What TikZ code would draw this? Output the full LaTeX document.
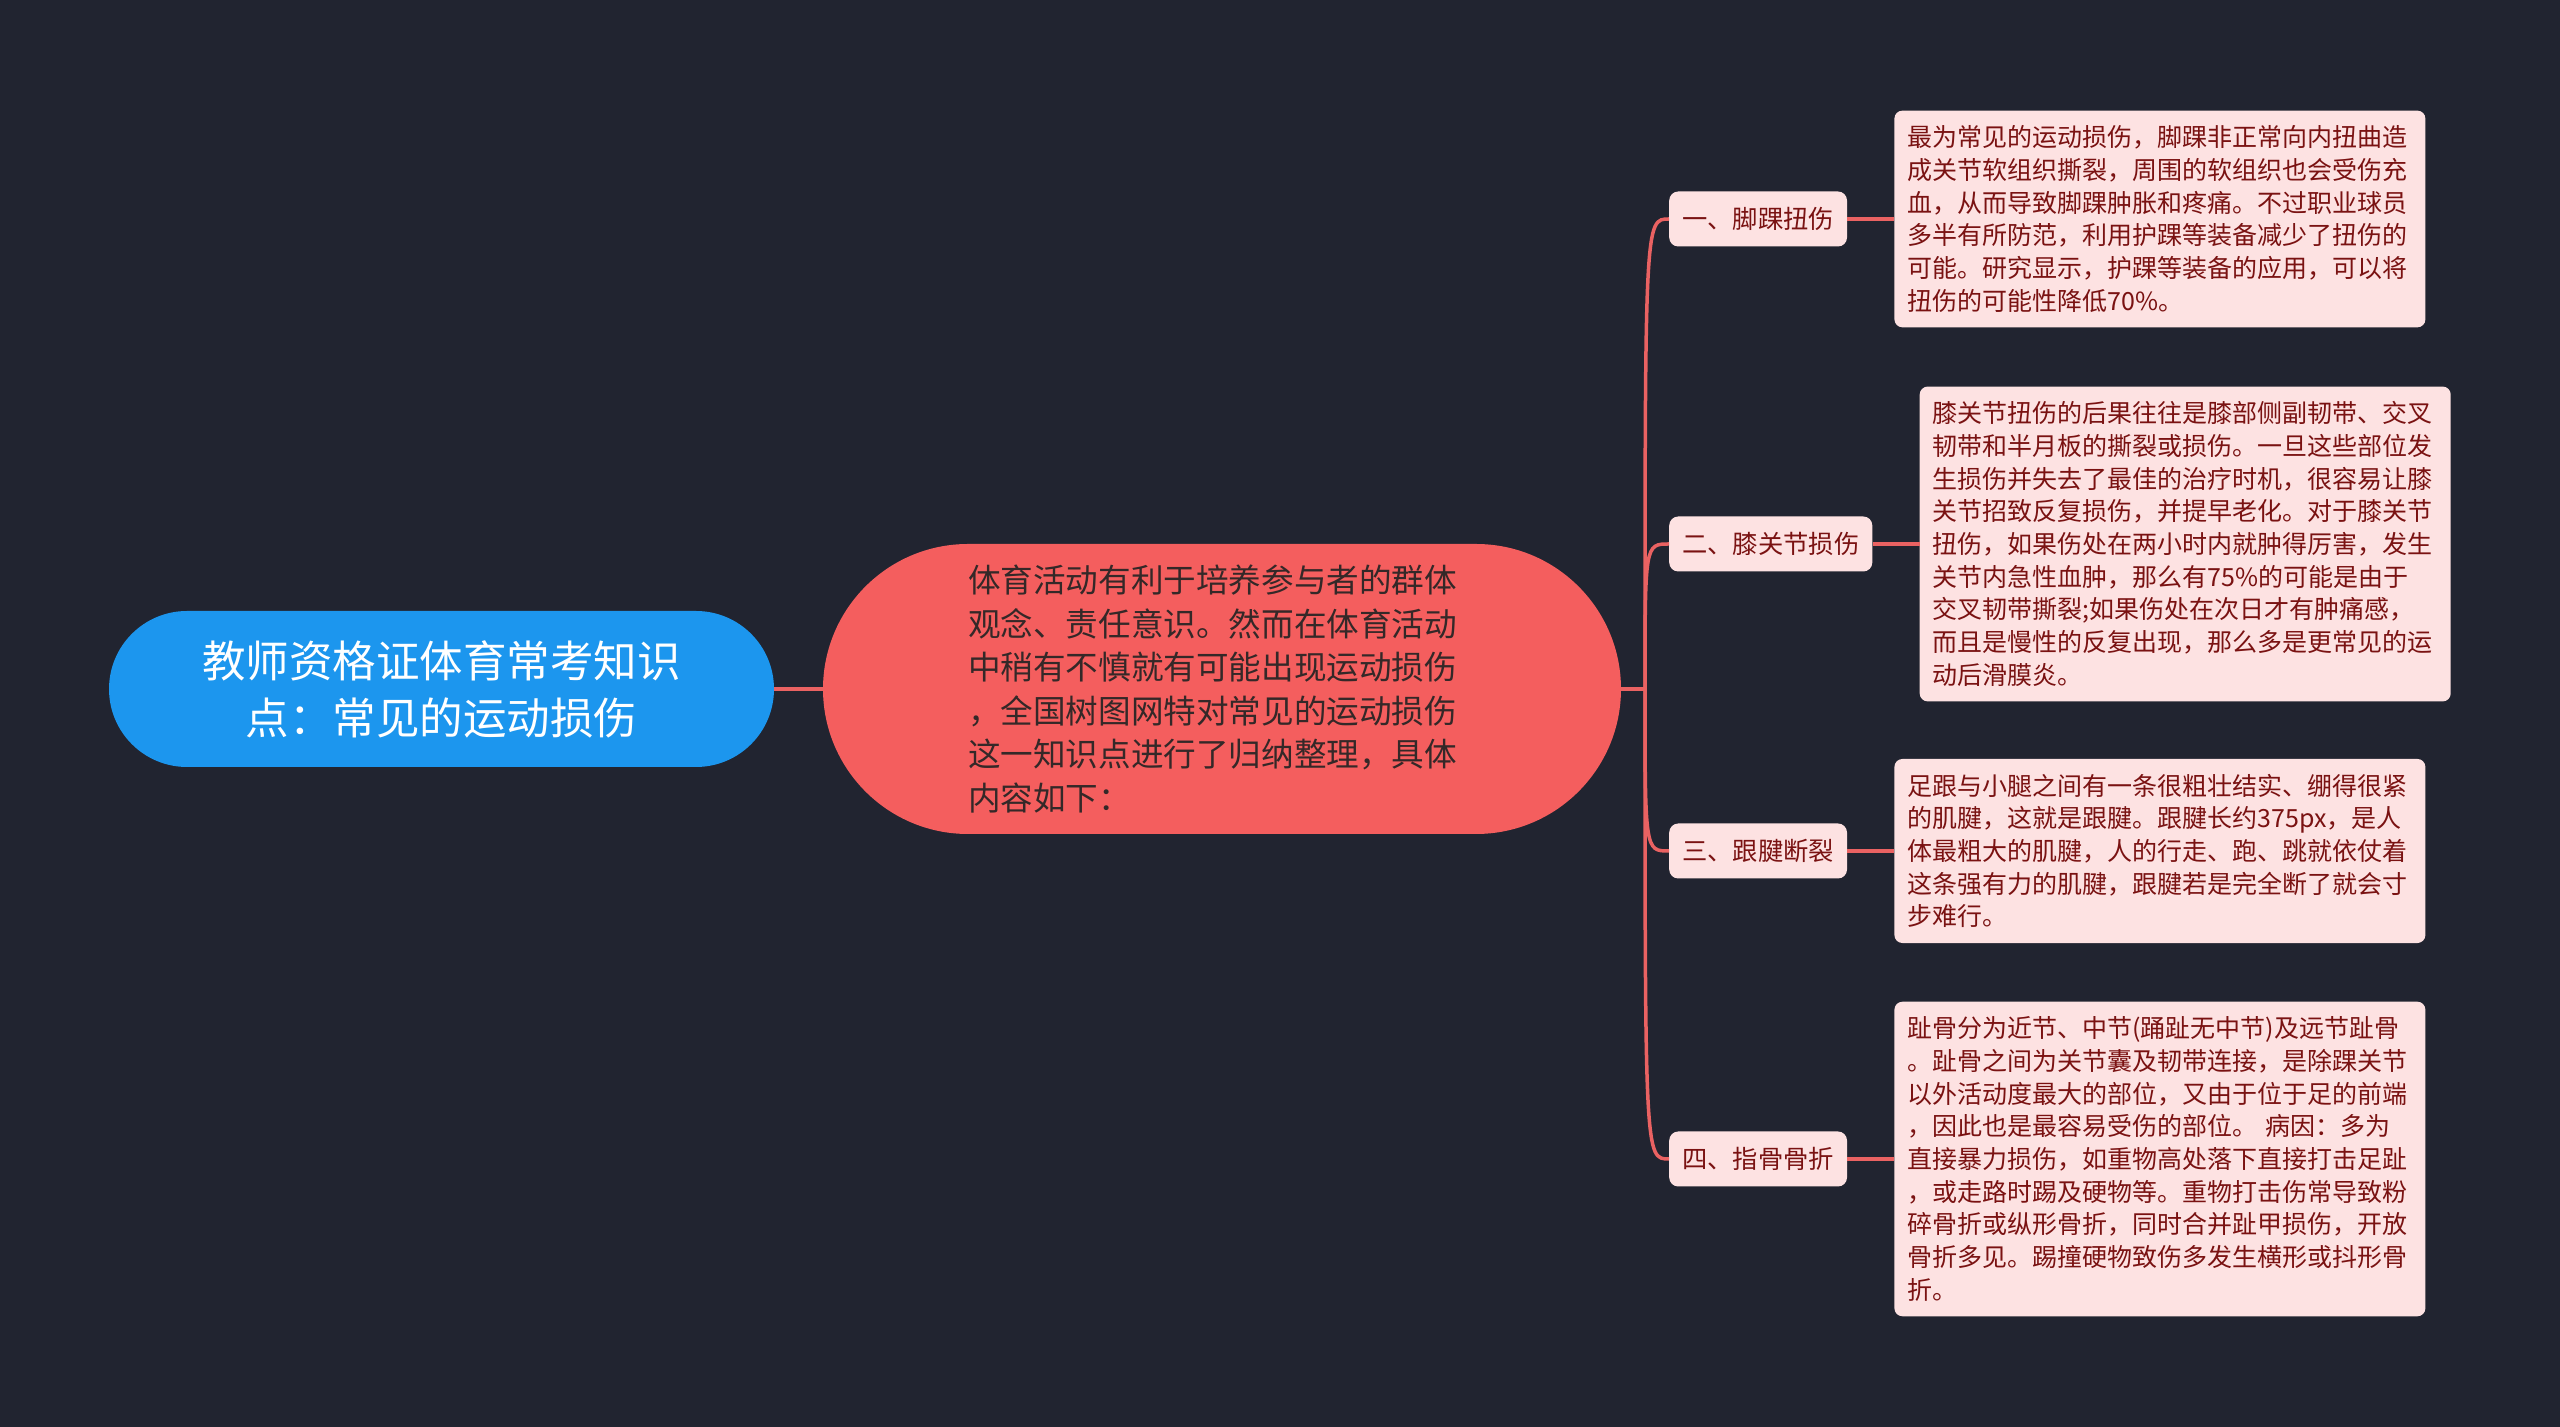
\documentclass[tikz,border=0pt]{standalone}
\usepackage{fontspec}
\usepackage{tikz}
\usetikzlibrary{positioning}
\newfontfamily\cjk{Noto Sans CJK SC}
\definecolor{bgcol}{RGB}{33,36,48}
\definecolor{rootblue}{RGB}{28,150,238}
\definecolor{topicred}{RGB}{244,94,94}
\definecolor{linered}{RGB}{234,98,98}
\definecolor{pinkfill}{RGB}{253,226,226}
\definecolor{darkred}{RGB}{122,18,18}
\definecolor{topictext}{RGB}{52,40,40}

\begin{document}
\begin{tikzpicture}[x=1pt, y=1pt, every node/.style={font=\cjk},
	branch/.style={draw=linered, line width=3.5pt},
	rootbox/.style={fill=rootblue, text=white, rounded corners=78pt, minimum width=665pt, minimum height=156pt, inner sep=0pt, align=center, font=\cjk\fontsize{43.5}{57}\selectfont},
	topicbox/.style={fill=topicred, text=topictext, rounded corners=145pt, minimum width=798pt, minimum height=290pt, inner sep=0pt, text width=508pt, align=left, font=\cjk\fontsize{32.6}{43.5}\selectfont},
	labbox/.style={fill=pinkfill, text=darkred, rounded corners=9pt, anchor=west, minimum height=55pt, inner xsep=13pt, inner ysep=0pt, font=\cjk\fontsize{25.3}{30}\selectfont},
	notebox/.style={fill=pinkfill, text=darkred, rounded corners=8pt, right=47pt of #1, inner xsep=13pt, inner ysep=15pt, text width=505pt, align=left, font=\cjk\fontsize{25}{32.7}\selectfont}]
	\fill[bgcol] (0,0) rectangle (2560,1427);

	\node[rootbox] (root) at (441.5,738) {教师资格证体育常考知识\\点：常见的运动损伤};
	\node[topicbox] (topic) at (1222,738) {体育活动有利于培养参与者的群体\\观念、责任意识。然而在体育活动\\中稍有不慎就有可能出现运动损伤\\，全国树图网特对常见的运动损伤\\这一知识点进行了归纳整理，具体\\内容如下：};
	\coordinate (hub) at (1645,738);

	\node[labbox] (lab1) at (1669,1208) {一、脚踝扭伤};
	\node[labbox] (lab2) at (1669,883) {二、膝关节损伤};
	\node[labbox] (lab3) at (1669,576) {三、跟腱断裂};
	\node[labbox] (lab4) at (1669,268) {四、指骨骨折};

	\node[notebox=lab1] (note1) {最为常见的运动损伤，脚踝非正常向内扭曲造\\成关节软组织撕裂，周围的软组织也会受伤充\\血，从而导致脚踝肿胀和疼痛。不过职业球员\\多半有所防范，利用护踝等装备减少了扭伤的\\可能。研究显示，护踝等装备的应用，可以将\\扭伤的可能性降低70\%。};
	\node[notebox=lab2] (note2) {膝关节扭伤的后果往往是膝部侧副韧带、交叉\\韧带和半月板的撕裂或损伤。一旦这些部位发\\生损伤并失去了最佳的治疗时机，很容易让膝\\关节招致反复损伤，并提早老化。对于膝关节\\扭伤，如果伤处在两小时内就肿得厉害，发生\\关节内急性血肿，那么有75\%的可能是由于\\交叉韧带撕裂;如果伤处在次日才有肿痛感，\\而且是慢性的反复出现，那么多是更常见的运\\动后滑膜炎。};
	\node[notebox=lab3] (note3) {足跟与小腿之间有一条很粗壮结实、绷得很紧\\的肌腱，这就是跟腱。跟腱长约375px，是人\\体最粗大的肌腱，人的行走、跑、跳就依仗着\\这条强有力的肌腱，跟腱若是完全断了就会寸\\步难行。};
	\node[notebox=lab4] (note4) {趾骨分为近节、中节(踊趾无中节)及远节趾骨\\。趾骨之间为关节囊及韧带连接，是除踝关节\\以外活动度最大的部位，又由于位于足的前端\\，因此也是最容易受伤的部位。 病因：多为\\直接暴力损伤，如重物高处落下直接打击足趾\\，或走路时踢及硬物等。重物打击伤常导致粉\\碎骨折或纵形骨折，同时合并趾甲损伤，开放\\骨折多见。踢撞硬物致伤多发生横形或抖形骨\\折。};

	\draw[branch] (root.east) -- (topic.west);
	\draw[branch] (topic.east) -- (hub);
	\foreach \i in {1,...,4} {
		\draw[branch] (hub) .. controls (hub |- lab\i.west) .. (lab\i.west);
		\draw[branch] (lab\i.east) -- (note\i.west);
	}
\end{tikzpicture}
\end{document}
